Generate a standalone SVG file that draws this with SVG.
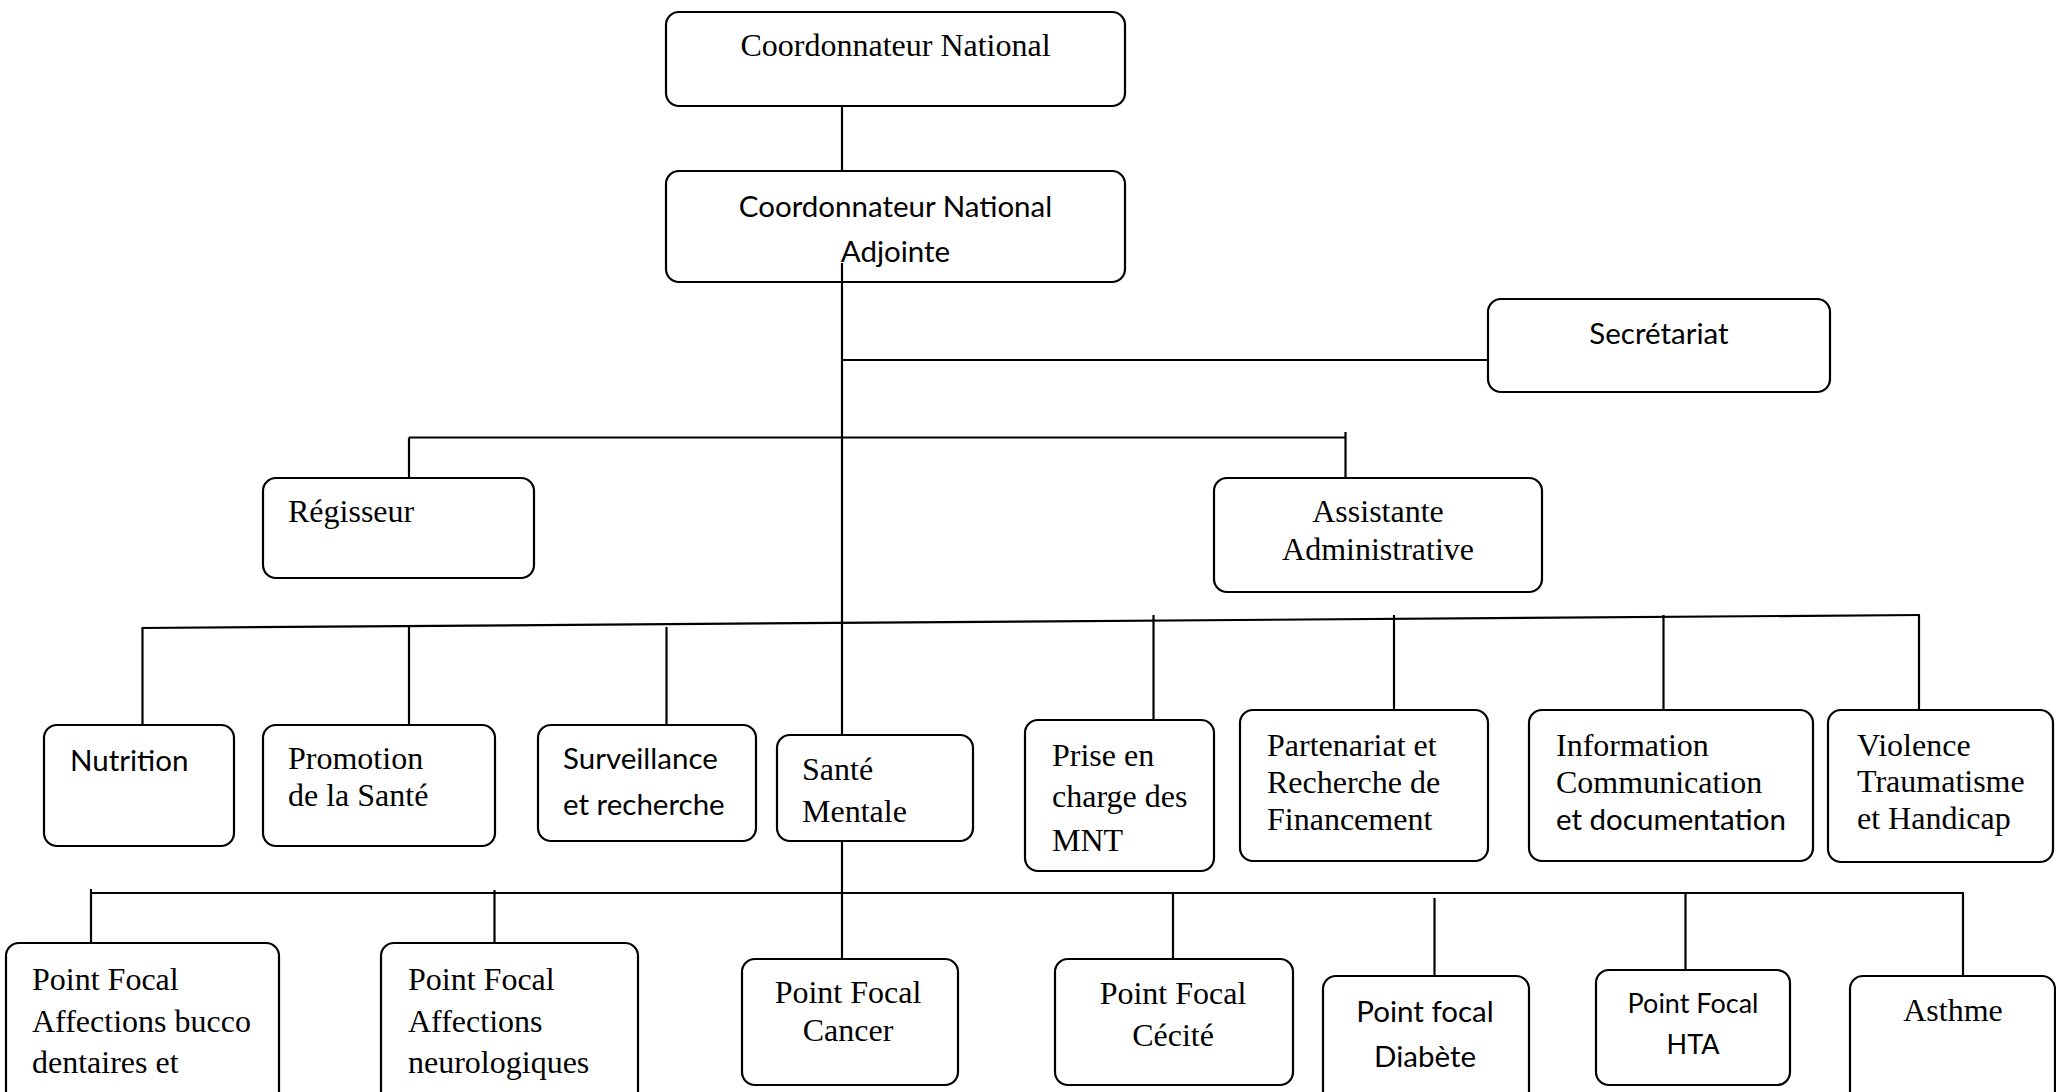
<svg xmlns="http://www.w3.org/2000/svg" width="2056" height="1092" viewBox="0 0 2056 1092">
<style>
.box{fill:#fff;stroke:#000;stroke-width:2.2}
.ln{stroke:#000;stroke-width:2.2;fill:none}
.se{font-family:"Liberation Serif","Times New Roman",serif;font-size:32px;fill:#000}
.sa{font-family:Lato,"Liberation Sans",sans-serif;font-size:29.5px;fill:#000}
.c{text-anchor:middle}
</style>
<rect width="2056" height="1092" fill="#fff"/>
<g id="connectors">
<line class="ln" x1="842" y1="106" x2="842" y2="171"/>
<line class="ln" x1="842" y1="263" x2="842" y2="735"/>
<line class="ln" x1="842" y1="360" x2="1488" y2="360"/>
<line class="ln" x1="409" y1="437.5" x2="1345.5" y2="437.5"/>
<line class="ln" x1="409" y1="437.5" x2="409" y2="478"/>
<line class="ln" x1="1345.5" y1="432" x2="1345.5" y2="478"/>
<line class="ln" x1="141.5" y1="628" x2="1920" y2="615"/>
<line class="ln" x1="142.5" y1="628" x2="142.5" y2="725"/>
<line class="ln" x1="409" y1="626" x2="409" y2="725"/>
<line class="ln" x1="666.5" y1="627" x2="666.5" y2="725"/>
<line class="ln" x1="1153.5" y1="615" x2="1153.5" y2="720"/>
<line class="ln" x1="1394" y1="615" x2="1394" y2="710"/>
<line class="ln" x1="1663.5" y1="615" x2="1663.5" y2="710"/>
<line class="ln" x1="1919" y1="615" x2="1919" y2="710"/>
<line class="ln" x1="842" y1="841" x2="842" y2="959"/>
<line class="ln" x1="91" y1="893" x2="1964" y2="893"/>
<line class="ln" x1="91" y1="889" x2="91" y2="943"/>
<line class="ln" x1="494.5" y1="890" x2="494.5" y2="943"/>
<line class="ln" x1="1173" y1="893" x2="1173" y2="959"/>
<line class="ln" x1="1434.5" y1="898" x2="1434.5" y2="976"/>
<line class="ln" x1="1685.5" y1="893" x2="1685.5" y2="970"/>
<line class="ln" x1="1963" y1="893" x2="1963" y2="976"/>
</g>
<g id="n-coord">
<rect class="box" x="666" y="12" width="459" height="94" rx="13"/>
<text class="se c" x="895.5" y="56">Coordonnateur National</text>
</g>
<g id="n-adjointe">
<rect class="box" x="666" y="171" width="459" height="111" rx="13"/>
<text class="sa c" x="895.5" y="217">Coordonnateur National</text>
<text class="sa c" x="895.5" y="262">Adjointe</text>
</g>
<line class="ln" x1="842" y1="263" x2="842" y2="282"/>
<g id="n-secretariat">
<rect class="box" x="1488" y="299" width="342" height="93" rx="13"/>
<text class="sa c" x="1659" y="344">Secrétariat</text>
</g>
<g id="n-regisseur">
<rect class="box" x="263" y="478" width="271" height="100" rx="13"/>
<text class="se" x="288" y="522">Régisseur</text>
</g>
<g id="n-assistante">
<rect class="box" x="1214" y="478" width="328" height="114" rx="13"/>
<text class="se c" x="1378" y="522">Assistante</text>
<text class="se c" x="1378" y="559.5">Administrative</text>
</g>
<g id="n-nutrition">
<rect class="box" x="44" y="725" width="190" height="121" rx="13"/>
<text class="sa" x="70" y="771">Nutrition</text>
</g>
<g id="n-promotion">
<rect class="box" x="263" y="725" width="232" height="121" rx="13"/>
<text class="se" x="288" y="769">Promotion</text>
<text class="se" x="288" y="806">de la Santé</text>
</g>
<g id="n-surveillance">
<rect class="box" x="538" y="725" width="218" height="116" rx="13"/>
<text class="sa" x="563" y="769">Surveillance</text>
<text class="sa" x="563" y="815">et recherche</text>
</g>
<g id="n-sante-mentale">
<rect class="box" x="777" y="735" width="196" height="106" rx="13"/>
<text class="se" x="802" y="780">Santé</text>
<text class="se" x="802" y="822">Mentale</text>
</g>
<g id="n-prise">
<rect class="box" x="1025" y="720" width="189" height="151" rx="13"/>
<text class="se" x="1052" y="766">Prise en</text>
<text class="se" x="1052" y="807">charge des</text>
<text class="se" x="1052" y="851">MNT</text>
</g>
<g id="n-partenariat">
<rect class="box" x="1240" y="710" width="248" height="151" rx="13"/>
<text class="se" x="1267" y="756">Partenariat et</text>
<text class="se" x="1267" y="793">Recherche de</text>
<text class="se" x="1267" y="830">Financement</text>
</g>
<g id="n-information">
<rect class="box" x="1529" y="710" width="284" height="151" rx="13"/>
<text class="se" x="1556" y="756">Information</text>
<text class="se" x="1556" y="793">Communication</text>
<text class="sa" x="1556" y="830">et documentation</text>
</g>
<g id="n-violence">
<rect class="box" x="1828" y="710" width="225" height="152" rx="13"/>
<text class="se" x="1857" y="756">Violence</text>
<text class="se" x="1857" y="792">Traumatisme</text>
<text class="se" x="1857" y="829">et Handicap</text>
</g>
<g id="n-pf-bucco">
<rect class="box" x="6" y="943" width="273" height="170" rx="13"/>
<text class="se" x="32" y="990">Point Focal</text>
<text class="se" x="32" y="1032">Affections bucco</text>
<text class="se" x="32" y="1073">dentaires et</text>
</g>
<g id="n-pf-neuro">
<rect class="box" x="381" y="943" width="257" height="170" rx="13"/>
<text class="se" x="408" y="990">Point Focal</text>
<text class="se" x="408" y="1032">Affections</text>
<text class="se" x="408" y="1073">neurologiques</text>
</g>
<g id="n-pf-cancer">
<rect class="box" x="742" y="959" width="216" height="126" rx="13"/>
<text class="se c" x="848" y="1003">Point Focal</text>
<text class="se c" x="848" y="1041">Cancer</text>
</g>
<g id="n-pf-cecite">
<rect class="box" x="1055" y="959" width="238" height="126" rx="13"/>
<text class="se c" x="1173" y="1004">Point Focal</text>
<text class="se c" x="1173" y="1046">Cécité</text>
</g>
<g id="n-pf-diabete">
<rect class="box" x="1323" y="976" width="206" height="140" rx="13"/>
<text class="sa c" x="1425" y="1022">Point focal</text>
<text class="sa c" x="1425" y="1067">Diabète</text>
</g>
<g id="n-pf-hta">
<rect class="box" x="1596" y="970" width="194" height="115" rx="13"/>
<text class="sa c" x="1693" y="1013" style="font-size:27px">Point Focal</text>
<text class="sa c" x="1693" y="1054" style="font-size:27px">HTA</text>
</g>
<g id="n-asthme">
<rect class="box" x="1850" y="976" width="205" height="140" rx="13"/>
<text class="se c" x="1953" y="1021">Asthme</text>
</g>
</svg>
